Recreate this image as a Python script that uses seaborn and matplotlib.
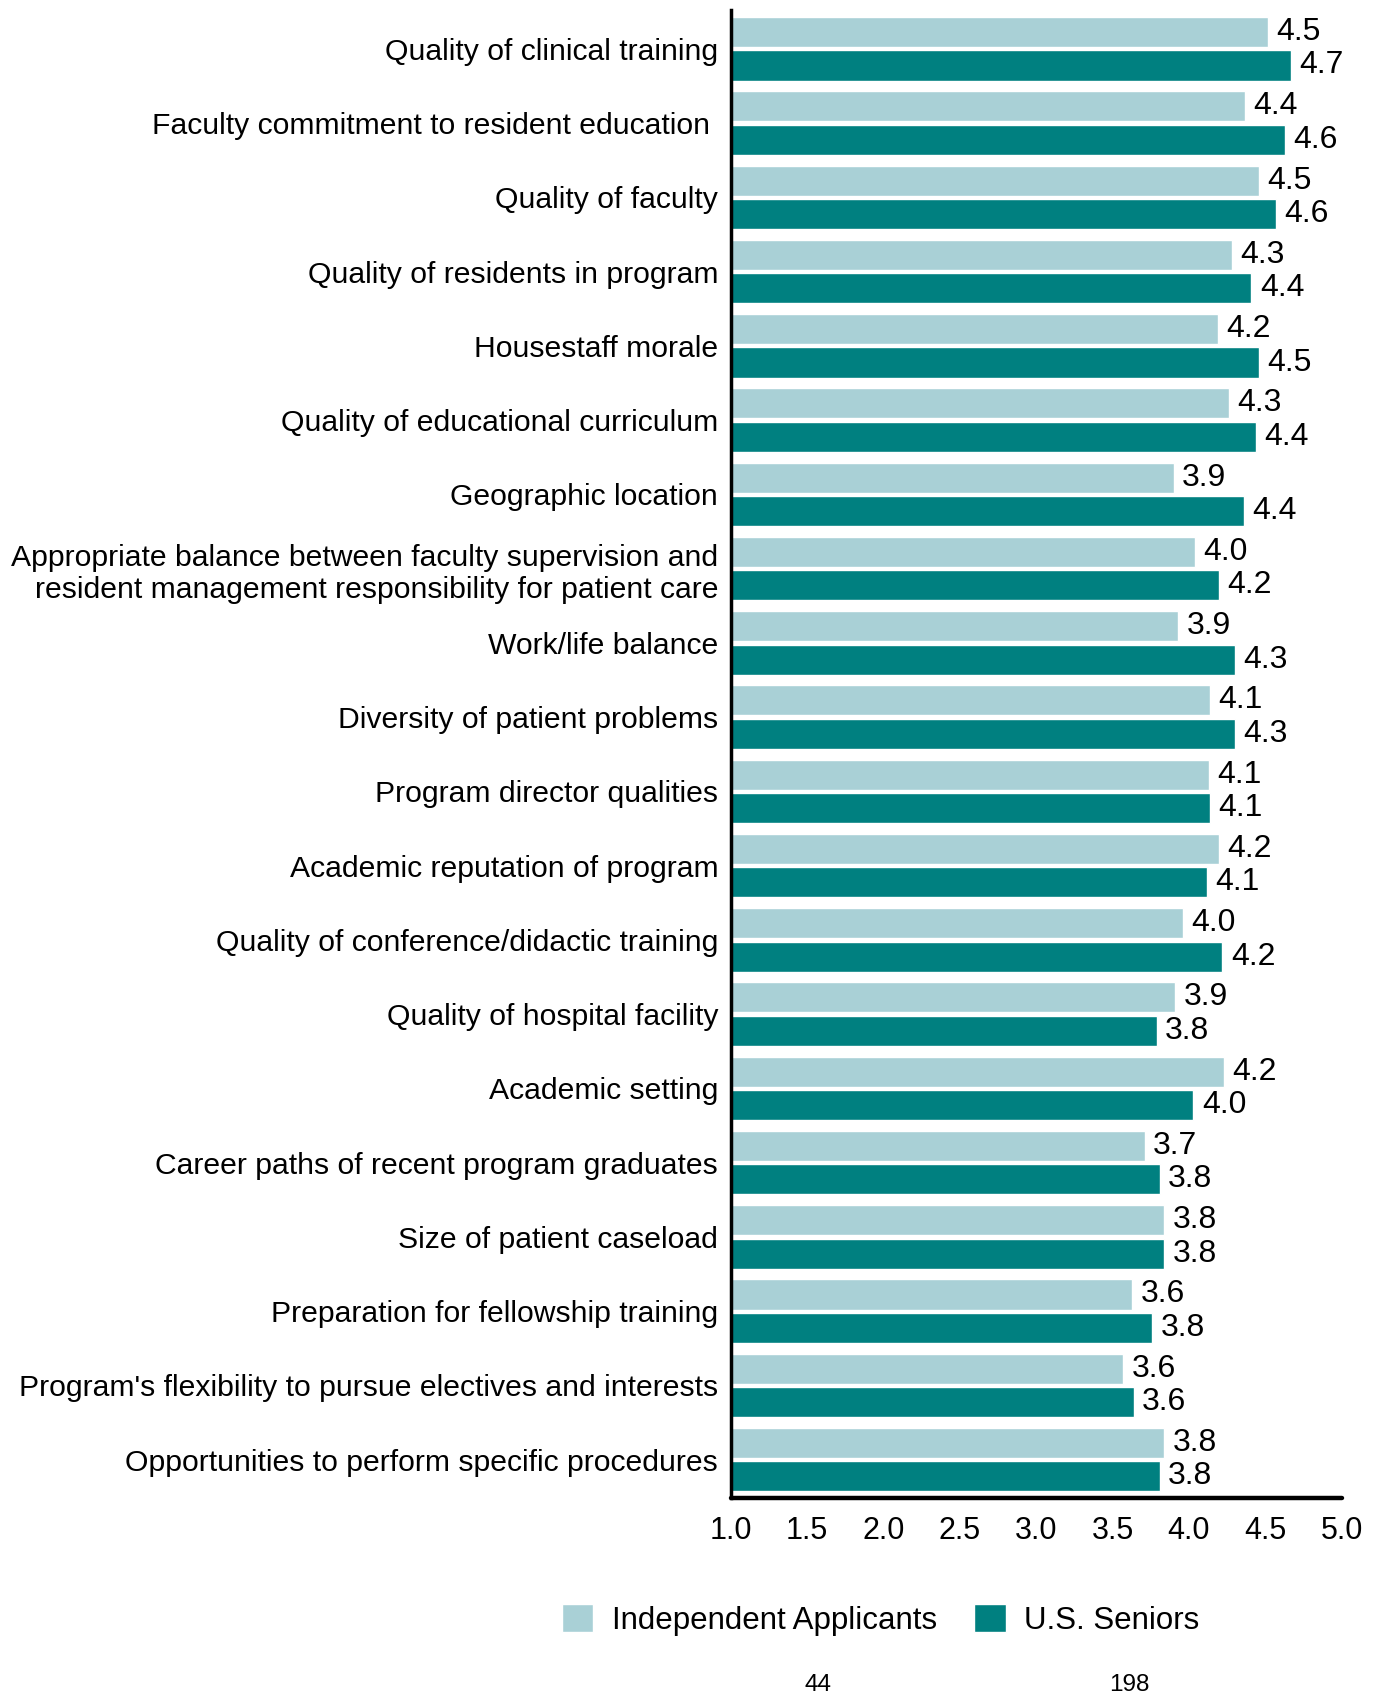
import matplotlib
matplotlib.use("Agg")
import matplotlib.pyplot as plt
import seaborn as sns
import pandas as pd
from matplotlib.patches import Patch

categories = [
    "Quality of clinical training",
    "Faculty commitment to resident education ",
    "Quality of faculty",
    "Quality of residents in program",
    "Housestaff morale",
    "Quality of educational curriculum",
    "Geographic location",
    "Appropriate balance between faculty supervision and\nresident management responsibility for patient care",
    "Work/life balance",
    "Diversity of patient problems",
    "Program director qualities",
    "Academic reputation of program",
    "Quality of conference/didactic training",
    "Quality of hospital facility",
    "Academic setting",
    "Career paths of recent program graduates",
    "Size of patient caseload",
    "Preparation for fellowship training",
    "Program's flexibility to pursue electives and interests",
    "Opportunities to perform specific procedures",
]
independent = [4.52, 4.37, 4.46, 4.28, 4.19, 4.26, 3.90, 4.04, 3.93, 4.14,
               4.13, 4.20, 3.96, 3.91, 4.23, 3.71, 3.84, 3.63, 3.57, 3.84]
seniors = [4.67, 4.63, 4.57, 4.41, 4.46, 4.44, 4.36, 4.20, 4.30, 4.30,
           4.14, 4.12, 4.22, 3.79, 4.03, 3.81, 3.84, 3.76, 3.64, 3.81]
series_names = ["Independent Applicants", "U.S. Seniors"]
counts = ["44", "198"]
xticks = [1.0, 1.5, 2.0, 2.5, 3.0, 3.5, 4.0, 4.5, 5.0]

light = "#A9D0D6"
dark = "#008080"

df = pd.DataFrame({
    "category": categories * 2,
    "value": independent + seniors,
    "group": [series_names[0]] * len(categories) + [series_names[1]] * len(categories),
})

sns.set_style("white")
plt.rcParams["font.family"] = ["Liberation Sans", "DejaVu Sans"]
plt.rcParams["text.color"] = "black"
plt.rcParams["xtick.color"] = "black"
plt.rcParams["ytick.color"] = "black"

fig = plt.figure(figsize=(13.76, 16.96), dpi=100)
ax = fig.add_axes([0.531, 0.117, 0.444, 0.877])

sns.barplot(data=df, y="category", x="value", hue="group", order=categories,
            hue_order=series_names, palette=[light, dark], orient="h",
            width=0.9, gap=0.1, ax=ax, legend=False, saturation=1)

for cont in ax.containers:
    ax.bar_label(cont, labels=[f"{v:.1f}" for v in cont.datavalues],
                 padding=6, fontsize=23, color="black")

ax.set_xlim(1.0, 5.0)
ax.set_ylim(19.51, -0.52)
ax.set_xticks(xticks)
ax.set_xticklabels([f"{t:.1f}" for t in xticks], fontsize=22)
ax.tick_params(axis="y", labelsize=21.7, length=0, pad=9)
ax.tick_params(axis="x", length=0, pad=13)
ax.set_xlabel("")
ax.set_ylabel("")
for lab in ax.get_yticklabels():
    lab.set_horizontalalignment("right")
    lab.set_multialignment("right")
    lab.set_linespacing(1.2)

for s in ["top", "right"]:
    ax.spines[s].set_visible(False)
ax.spines["left"].set_color("black")
ax.spines["left"].set_linewidth(2.5)
ax.spines["bottom"].set_color("black")
ax.spines["bottom"].set_linewidth(3.2)
ax.spines["bottom"].set_capstyle("round")

handles = [Patch(facecolor=light, label=series_names[0]),
           Patch(facecolor=dark, label=series_names[1])]
fig.legend(handles=handles, loc="center", bbox_to_anchor=(0.640, 0.045),
           ncol=2, frameon=False, fontsize=22.5, handlelength=1.0,
           handleheight=1.0, handletextpad=0.6, columnspacing=1.2)

fig.text(818 / 1376, 1 - 1685 / 1696, counts[0], ha="center", va="center", fontsize=17.5)
fig.text(1129 / 1376, 1 - 1685 / 1696, counts[1], ha="center", va="center", fontsize=17.5)

fig.savefig("out.png", dpi=100, facecolor="white")
